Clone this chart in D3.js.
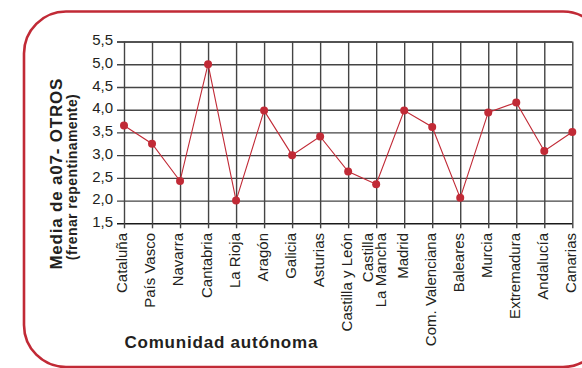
<!DOCTYPE html>
<html>
<head>
<meta charset="utf-8">
<script src="https://cdn.jsdelivr.net/npm/d3@7"></script>
<style>
  html, body { margin: 0; padding: 0; background: #ffffff; }
  svg { display: block; font-family: "Liberation Sans", Arial, Helvetica, sans-serif; }
</style>
</head>
<body>
<svg id="chart" width="582" height="368"></svg>
<script>
// Comunidades autónomas (a label may break over two lines with "\n")
const categories = [
  "Cataluña", "País Vasco", "Navarra", "Cantabria", "La Rioja", "Aragón",
  "Galicia", "Asturias", "Castilla y León", "Castilla\nLa Mancha", "Madrid",
  "Com. Valenciana", "Baleares", "Murcia", "Extremadura", "Andalucía", "Canarias"
];
// Media de a07 - OTROS (frenar repentinamente)
const values = [3.65, 3.25, 2.43, 5.0, 2.0, 3.98, 3.0, 3.41, 2.64, 2.36, 3.98, 3.62, 2.06, 3.94, 4.16, 3.09, 3.51];
const yTicks = [1.5, 2.0, 2.5, 3.0, 3.5, 4.0, 4.5, 5.0, 5.5];

const red = "#c12a36";
const ink = "#231f20";
const svg = d3.select("#chart");

// rounded frame, running off the right edge
svg.append("rect")
  .attr("x", 24).attr("y", 11.5)
  .attr("width", 581).attr("height", 355.5)
  .attr("rx", 42).attr("ry", 42)
  .attr("fill", "none").attr("stroke", red).attr("stroke-width", 2.6);

const x = d3.scalePoint().domain(categories).range([124, 572.3]);
const y = d3.scaleLinear().domain([1.5, 5.5]).range([223.3, 41.5]);
const fmt = v => d3.format(".1f")(v).replace(".", ",");

// horizontal grid with left tick stubs
const yAxis = d3.axisLeft(y).tickValues(yTicks).tickFormat(fmt)
  .tickSize(-(572.3 - 124) - 7).tickPadding(4);
const gy = svg.append("g").attr("transform", "translate(117,0)").call(yAxis);
gy.select(".domain").remove();
gy.selectAll(".tick line")
  .attr("stroke", (d) => (d === 1.5 || d === 5.5) ? "#1a1a1a" : "#444")
  .attr("stroke-width", 1.4);
gy.selectAll(".tick text")
  .attr("fill", ink).attr("font-size", 15).attr("dy", "0.22em");

// vertical grid with tick stubs below the plot
const xAxis = d3.axisBottom(x).tickSize(y(1.5) - y(5.5) + 5).tickFormat("");
const gx = svg.append("g").attr("transform", `translate(0,${y(5.5)})`).call(xAxis);
gx.select(".domain").remove();
gx.selectAll(".tick line").attr("stroke", "#444").attr("stroke-width", 1.4);

// rotated category labels
const labels = svg.append("g");
categories.forEach(c => {
  const lines = c.split("\n");
  const t = labels.append("text")
    .attr("transform", `translate(${x(c)},233) rotate(-90)`)
    .attr("text-anchor", "end")
    .attr("fill", ink).attr("font-size", 15);
  const n = lines.length;
  lines.forEach((ln, i) => {
    t.append("tspan")
      .attr("x", 0)
      .attr("y", (i - (n - 1) / 2) * 12.5)
      .attr("dy", "0.23em")
      .text(ln);
  });
});

// series line and markers
const line = d3.line().x((d, i) => x(categories[i])).y(d => y(d));
svg.append("path").datum(values)
  .attr("d", line).attr("fill", "none")
  .attr("stroke", red).attr("stroke-width", 1.1);
svg.append("g").selectAll("circle").data(values).join("circle")
  .attr("cx", (d, i) => x(categories[i])).attr("cy", d => y(d))
  .attr("r", 4).attr("fill", red);

// axis titles
svg.append("text")
  .attr("transform", "translate(61.5,173.7) rotate(-90)")
  .attr("text-anchor", "middle")
  .attr("font-size", 17).attr("font-weight", "bold")
  .attr("letter-spacing", 0.8).attr("fill", ink)
  .text("Media de a07- OTROS");
svg.append("text")
  .attr("transform", "translate(77,177) rotate(-90)")
  .attr("text-anchor", "middle")
  .attr("font-size", 14).attr("font-weight", "bold")
  .attr("letter-spacing", 0.4).attr("fill", ink)
  .text("(frenar repentinamente)");
svg.append("text")
  .attr("x", 221.3).attr("y", 348.3)
  .attr("text-anchor", "middle")
  .attr("font-size", 17).attr("font-weight", "bold")
  .attr("letter-spacing", 0.8).attr("fill", ink)
  .text("Comunidad autónoma");
</script>
</body>
</html>
